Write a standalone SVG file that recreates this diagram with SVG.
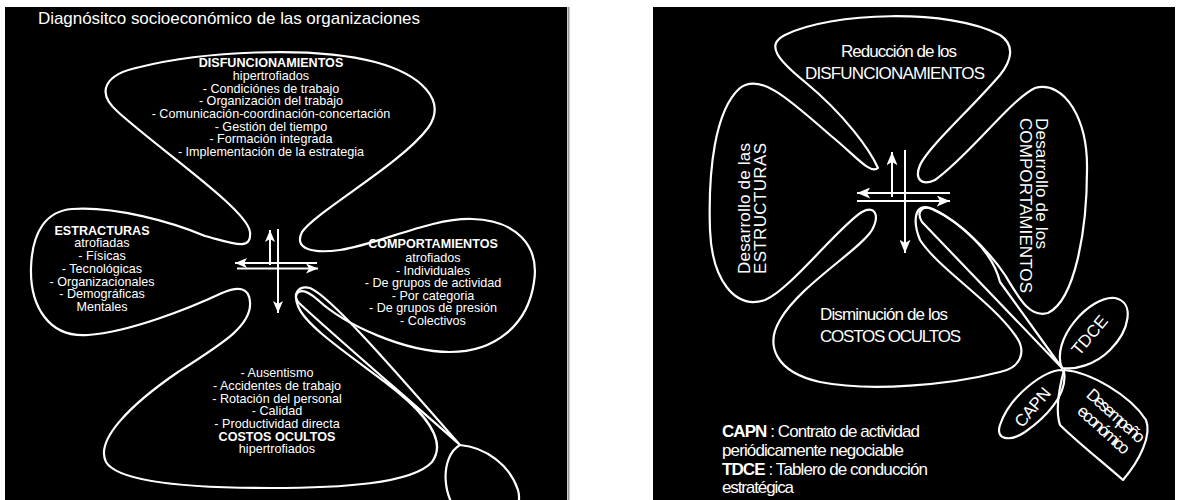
<svg xmlns="http://www.w3.org/2000/svg" width="1181" height="500" viewBox="0 0 1181 500">
<defs>
<marker id="ah" viewBox="0 0 12 10" refX="12" refY="5" markerWidth="12" markerHeight="10" markerUnits="userSpaceOnUse" orient="auto">
<path d="M0,0 L12,5 L0,10 L3,5 Z" fill="#fff"/>
</marker>
<marker id="ah2" viewBox="0 0 12 10" refX="12" refY="5" markerWidth="14" markerHeight="11" markerUnits="userSpaceOnUse" orient="auto">
<path d="M0,0 L12,5 L0,10 L3,5 Z" fill="#fff"/>
</marker>
</defs>
<style>
.o{fill:none;stroke:#fff;stroke-width:2.2;stroke-linejoin:round}
.a{fill:none;stroke:#fff;stroke-width:2}
.t{font-family:"Liberation Sans",Arial,sans-serif;fill:#fff;font-size:12.6px;text-anchor:middle}
.b{font-weight:bold}
.n{font-family:"Liberation Sans Narrow","Liberation Sans",Arial,sans-serif;fill:#fff;font-size:17px}
.m{text-anchor:middle}
</style>
<rect x="0" y="0" width="1181" height="500" fill="#fff"/>
<rect x="5" y="7" width="562" height="493" fill="#000"/>
<line x1="568.5" y1="7" x2="568.5" y2="500" stroke="#9a9a9a" stroke-width="2"/>
<rect x="653" y="7" width="522" height="493" fill="#000"/>

<text x="38" y="24" font-family="Liberation Sans, Arial, sans-serif" font-size="17" fill="#fff" textLength="382">Diagnósitco socioeconómico de las organizaciones</text>

<!-- LEFT PANEL -->
<g id="left-flower">
<path class="o" d="M205,236 C232,243 252,252 250,232 C248,210 160,150 118,112 C95,92 105,74 140,67 C200,52 310,45 375,62 C420,74 448,100 428,128 C400,165 318,210 302,232 C294,248 310,254 340,250 C380,244 430,218 472,219 C515,220 540,245 534,282 C528,325 495,352 450,352 C405,352 345,325 318,300 C300,284 292,292 298,306 C305,325 345,352 385,382 C425,412 448,440 432,462 C412,484 340,488 270,488 C185,488 118,482 106,462 C95,440 130,405 178,372 C225,342 252,325 250,302 C249,287 238,286 222,293 C190,308 130,332 88,335 C48,338 30,305 31,268 C32,232 46,211 72,209 C115,206 172,222 205,236 Z"/>
</g>
<g id="left-top">
<text class="t b" x="271" y="67">DISFUNCIONAMIENTOS</text>
<text class="t" x="271" y="80">hipertrofiados</text>
<text class="t" x="271" y="93">- Condiciónes de trabajo</text>
<text class="t" x="271" y="105">- Organización del trabajo</text>
<text class="t" x="271" y="118">- Comunicación-coordinación-concertación</text>
<text class="t" x="271" y="131">- Gestión del tiempo</text>
<text class="t" x="271" y="143">- Formación integrada</text>
<text class="t" x="271" y="156">- Implementación de la estrategia</text>
</g>
<g id="left-left">
<text class="t b" x="102" y="235">ESTRACTURAS</text>
<text class="t" x="102" y="247">atrofiadas</text>
<text class="t" x="102" y="260">- Físicas</text>
<text class="t" x="102" y="273">- Tecnológicas</text>
<text class="t" x="102" y="286">- Organizacionales</text>
<text class="t" x="102" y="298">- Demográficas</text>
<text class="t" x="102" y="311">Mentales</text>
</g>
<g id="left-right">
<text class="t b" x="433" y="248">COMPORTAMIENTOS</text>
<text class="t" x="433" y="262">atrofiados</text>
<text class="t" x="433" y="275">- Individuales</text>
<text class="t" x="433" y="287">- De grupos de actividad</text>
<text class="t" x="433" y="300">- Por categoria</text>
<text class="t" x="433" y="312">- De grupos de presión</text>
<text class="t" x="433" y="325">- Colectivos</text>
</g>
<g id="left-bottom">
<text class="t" x="277" y="377">- Ausentismo</text>
<text class="t" x="277" y="390">- Accidentes de trabajo</text>
<text class="t" x="277" y="403">- Rotación del personal</text>
<text class="t" x="277" y="415">- Calidad</text>
<text class="t" x="277" y="428">- Productividad directa</text>
<text class="t b" x="277" y="441">COSTOS OCULTOS</text>
<text class="t" x="277" y="453">hipertrofiados</text>
</g>
<g id="left-stem">
<path class="o" d="M299,303 C292,295 298,285 310,288 C330,296 390,365 460,445 C400,392 330,332 299,303 Z"/>
<path class="o" d="M460,445 C440,456 440,500 465,520 C495,540 525,515 518,490 C510,465 485,447 460,445 Z"/>
</g>

<!-- RIGHT PANEL -->
<g id="right-flower">
<path class="o" d="M878,168 C870,150 845,115 805,82 C778,60 765,45 785,35 C830,12 950,8 1000,35 C1015,45 1012,60 1000,75 C970,110 930,145 920,165 C914,180 922,186 935,180 C970,155 1010,100 1035,88 C1065,80 1088,120 1087,170 C1087,230 1075,300 1048,313 C1030,318 1020,300 1005,275 C985,245 950,215 930,208 C915,203 912,220 920,240 C940,270 990,300 1015,335 C1028,352 1020,368 1000,372 C950,385 870,392 820,382 C775,372 765,345 780,320 C800,285 860,250 872,230 C880,215 875,205 862,212 C840,225 790,290 765,300 C735,310 712,280 710,230 C708,170 715,110 740,88 C760,72 790,100 830,135 C855,155 870,175 878,168 Z"/>
</g>
<g id="right-top">
<text class="n m" x="899" y="57" textLength="116">Reducción de los</text>
<text class="n m" x="895" y="79" textLength="180">DISFUNCIONAMIENTOS</text>
</g>
<g id="right-left">
<text class="n" transform="translate(750,274) rotate(-90)" textLength="131">Desarrollo de las</text>
<text class="n" transform="translate(766,274) rotate(-90)" textLength="131">ESTRUCTURAS</text>
</g>
<g id="right-right">
<text class="n" transform="translate(1036,118) rotate(90)" textLength="131">Desarrollo de los</text>
<text class="n" transform="translate(1020,118) rotate(90)" textLength="175">COMPORTAMIENTOS</text>
</g>
<g id="right-bottom">
<text class="n" x="820" y="320" textLength="128">Disminución de los</text>
<text class="n" x="820" y="342" textLength="141">COSTOS OCULTOS</text>
</g>
<g id="right-stem">
<path class="o" d="M922,222 C916,212 922,205 932,209 C960,222 992,250 1000,282 L1062,368 L922,222 Z"/>
</g>
<g id="tdce">
<path class="o" d="M1062,368 C1050,340 1090,295 1115,298 C1135,302 1130,330 1110,350 C1095,365 1075,370 1062,368 Z"/>
<text class="n m" font-size="15" transform="translate(1094,339) rotate(-50)" textLength="46">TDCE</text>
</g>
<g id="capn">
<path class="o" d="M1062,370 C1045,370 1010,395 1000,425 C995,440 1010,442 1025,432 C1045,418 1068,395 1064,372 Z"/>
<text class="n m" font-size="15" transform="translate(1037,411) rotate(-50)" textLength="46">CAPN</text>
</g>
<g id="desempeno">
<path class="o" d="M1064,370 C1090,372 1130,395 1146,420 C1152,435 1140,460 1123,480 C1100,460 1075,440 1060,425 C1055,410 1060,385 1064,370 Z"/>
<text class="n m" font-size="15" transform="translate(1112,420) rotate(42)" textLength="72">Desempeño</text>
<text class="n m" font-size="15" transform="translate(1100,434) rotate(42)" textLength="64">económico</text>
</g>
<g id="legend">
<text class="n" x="722" y="437" textLength="198"><tspan font-weight="bold">CAPN</tspan> : Contrato de actividad</text>
<text class="n" x="722" y="456" textLength="182">periódicamente negociable</text>
<text class="n" x="722" y="475" textLength="206"><tspan font-weight="bold">TDCE</tspan> : Tablero de conducción</text>
<text class="n" x="722" y="493" textLength="72">estratégica</text>
</g>

<g id="connectors">
<line class="a" x1="270" y1="265" x2="270" y2="230" marker-end="url(#ah)"/>
<line class="a" x1="278" y1="229" x2="278" y2="313" marker-end="url(#ah)"/>
<line class="a" x1="317" y1="263" x2="235" y2="263" marker-end="url(#ah)"/>
<line class="a" x1="237" y1="268.5" x2="318" y2="268.5" marker-end="url(#ah)"/>
<line class="a" x1="892" y1="197" x2="892" y2="152" marker-end="url(#ah2)"/>
<line class="a" x1="905" y1="150" x2="905" y2="253" marker-end="url(#ah2)"/>
<line class="a" x1="950" y1="193" x2="857" y2="193" marker-end="url(#ah2)"/>
<line class="a" x1="857" y1="201" x2="950" y2="201" marker-end="url(#ah2)"/>
</g>
</svg>
